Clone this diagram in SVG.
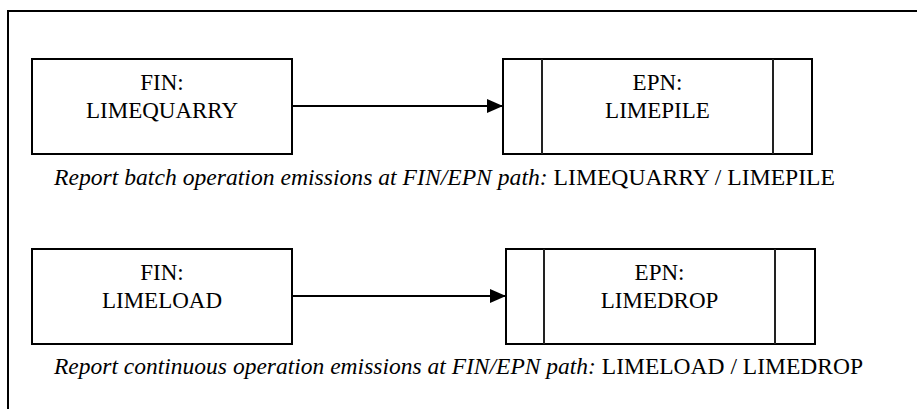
<svg xmlns="http://www.w3.org/2000/svg" width="917" height="409" viewBox="0 0 917 409">
<style>
.box{fill:#fff;stroke:#000;stroke-width:2}
.div{stroke:#222;stroke-width:2}
.lbl{font-family:'Liberation Serif','Times New Roman',serif;font-size:23px;fill:#000;text-anchor:middle}
.cap{font-family:'Liberation Serif','Times New Roman',serif;font-size:23.5px;fill:#000}
.conn{stroke:#000;stroke-width:2;fill:none}
</style>
<defs>
<marker id="ah" viewBox="0 0 16 14" refX="16" refY="7" markerWidth="16" markerHeight="14" markerUnits="userSpaceOnUse" orient="auto">
<path d="M0,0 L16,7 L0,14 Z" fill="#000"/>
</marker>
</defs>
<rect x="0" y="0" width="917" height="409" fill="#fff"/>
<rect x="8" y="11" width="930" height="420" fill="none" stroke="#000" stroke-width="2"/>
<g id="connectors">
<line class="conn" x1="292" y1="106" x2="503" y2="106" marker-end="url(#ah)"/>
<line class="conn" x1="292" y1="296" x2="506" y2="296" marker-end="url(#ah)"/>
</g>
<g id="fin-limequarry">
<rect class="box" x="32" y="59" width="260" height="95"/>
<text class="lbl" x="162" y="90">FIN:</text>
<text class="lbl" x="162" y="118">LIMEQUARRY</text>
</g>
<g id="epn-limepile">
<rect class="box" x="503" y="59" width="309" height="95"/>
<line class="div" x1="542" y1="59" x2="542" y2="154"/>
<line class="div" x1="773" y1="59" x2="773" y2="154"/>
<text class="lbl" x="657.5" y="90">EPN:</text>
<text class="lbl" x="657.5" y="118">LIMEPILE</text>
</g>
<g id="caption-batch">
<text class="cap" x="54" y="185" textLength="781" lengthAdjust="spacingAndGlyphs"><tspan font-style="italic">Report batch operation emissions at FIN/EPN path:</tspan> LIMEQUARRY / LIMEPILE</text>
</g>
<g id="fin-limeload">
<rect class="box" x="32" y="249" width="260" height="95"/>
<text class="lbl" x="162" y="280">FIN:</text>
<text class="lbl" x="162" y="308">LIMELOAD</text>
</g>
<g id="epn-limedrop">
<rect class="box" x="506" y="249" width="309" height="95"/>
<line class="div" x1="544" y1="249" x2="544" y2="344"/>
<line class="div" x1="775" y1="249" x2="775" y2="344"/>
<text class="lbl" x="659.5" y="280">EPN:</text>
<text class="lbl" x="659.5" y="308">LIMEDROP</text>
</g>
<g id="caption-continuous">
<text class="cap" x="54" y="374" textLength="809" lengthAdjust="spacingAndGlyphs"><tspan font-style="italic">Report continuous operation emissions at FIN/EPN path:</tspan> LIMELOAD / LIMEDROP</text>
</g>
</svg>
